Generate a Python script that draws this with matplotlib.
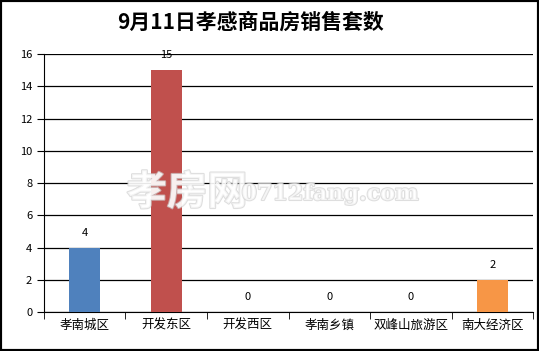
import matplotlib
matplotlib.use("Agg")
import matplotlib.pyplot as plt
import matplotlib.patheffects as pe
from matplotlib.patches import Rectangle

plt.rcParams['font.family'] = ['Noto Sans CJK SC', 'DejaVu Sans']

categories = ["孝南城区", "开发东区", "开发西区", "孝南乡镇", "双峰山旅游区", "南大经济区"]
values = [4, 15, 0, 0, 0, 2]
colors = ["#4F81BD", "#C0504D", "#9BBB59", "#8064A2", "#4BACC6", "#F79646"]
yticks = [0, 2, 4, 6, 8, 10, 12, 14, 16]
title = "9月11日孝感商品房销售套数"

fig = plt.figure(figsize=(5.39, 3.51), dpi=100)
ax = fig.add_axes([0.0816, 0.111, 0.9074, 0.735])

x = range(len(categories))
bars = ax.bar(x, values, width=0.38, color=colors, zorder=3)
for xi, v in zip(x, values):
    ax.annotate(str(v), (xi, v), xytext=(0, 7), textcoords="offset points",
                ha="center", va="bottom", fontsize=8)

ax.set_xlim(-0.5, len(categories) - 0.5)
ax.set_ylim(0, 16)
ax.set_yticks(yticks)
ax.set_yticklabels([str(t) for t in yticks], fontsize=8)
ax.yaxis.grid(True, color="black", linewidth=0.9, zorder=0)
ax.set_axisbelow(True)

ax.set_xticks(list(x))
ax.set_xticklabels(categories, fontsize=9)
ax.set_xticks([i - 0.5 for i in range(len(categories) + 1)], minor=True)
ax.tick_params(axis="x", which="major", length=0, pad=5)
ax.tick_params(axis="x", which="minor", length=5, direction="out", color="black")
ax.tick_params(axis="y", length=5, direction="out", color="black")

for s in ["top", "right"]:
    ax.spines[s].set_visible(False)
ax.spines["left"].set_color("black")
ax.spines["bottom"].set_color("black")

fig.text(250 / 539, 1 - 22 / 351, title, ha="center", va="center",
         fontsize=15, fontweight="bold")

# watermark
wm = dict(color="white", alpha=0.7, zorder=5,
          path_effects=[pe.withStroke(linewidth=1.5, foreground="#d0d0d0")])
fig.text(187 / 539, 1 - 193 / 351, "孝房网", ha="center", va="center",
         fontsize=29, fontweight="bold", **wm)
fig.text(330 / 539, 1 - 194 / 351, "0712fang.com", ha="center", va="center",
         fontsize=16, family=["DejaVu Serif"], fontweight="bold", **wm)

fig.patches.append(Rectangle((0, 0), 1, 1, transform=fig.transFigure,
                             fill=False, edgecolor="black", linewidth=3))

fig.savefig("out.png", dpi=100)
